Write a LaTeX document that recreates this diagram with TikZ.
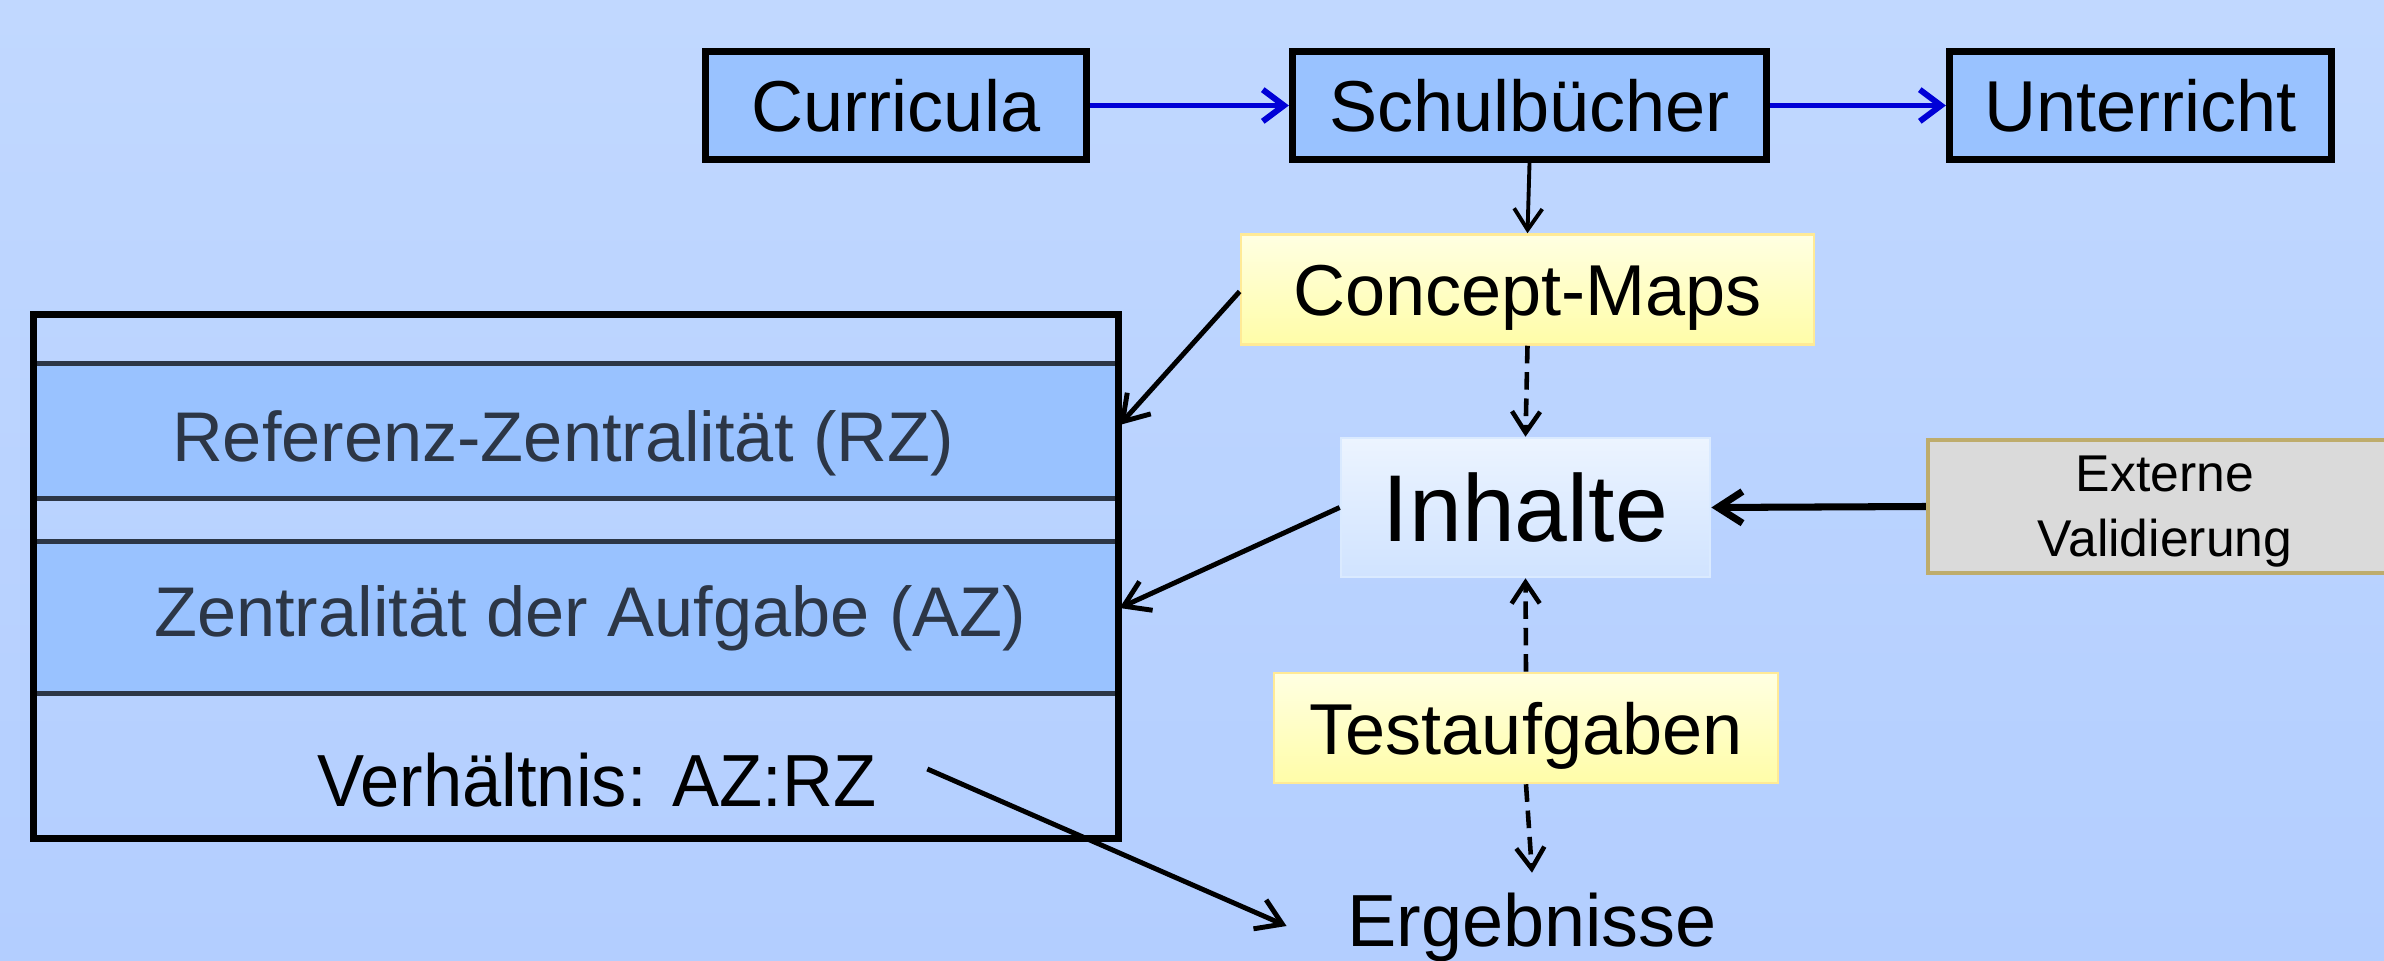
\documentclass[tikz,border=0pt]{standalone}
\usepackage{fontspec}
\setmainfont{Liberation Sans}
\usetikzlibrary{arrows.meta}
\definecolor{bgtop}{RGB}{193,216,255}
\definecolor{bgbot}{RGB}{179,206,255}
\definecolor{boxblue}{RGB}{153,194,255}
\definecolor{yltop}{RGB}{255,255,226}
\definecolor{ylbot}{RGB}{255,253,168}
\definecolor{ylborder}{RGB}{255,234,150}
\definecolor{intop}{RGB}{236,244,255}
\definecolor{inbot}{RGB}{208,227,255}
\definecolor{inborder}{RGB}{218,234,255}
\definecolor{extfill}{RGB}{218,218,218}
\definecolor{extborder}{RGB}{190,172,108}
\definecolor{slate}{RGB}{44,54,70}
\definecolor{arrowblue}{RGB}{0,0,215}
\begin{document}
\begin{tikzpicture}[x=0.01cm,y=-0.01cm,
  boxfont/.style={font=\fontsize{20.5}{24}\selectfont,text height=14.8pt,text depth=0pt},
  bluebox/.style={draw=black,line width=2pt,fill=boxblue,inner sep=0pt,minimum width=#1,minimum height=1.08cm,boxfont},
  yellowbox/.style={draw=ylborder,line width=0.7pt,top color=yltop,bottom color=ylbot,inner sep=0pt,minimum width=#1,minimum height=1.1cm,boxfont},
  band/.style={fill=boxblue,inner sep=0pt,minimum width=10.85cm,minimum height=#1},
  sepline/.style={draw=slate,line width=1.4pt},
  bandtext/.style={font=\fontsize{20}{24}\selectfont,text height=14.4pt,text depth=0pt,text=slate,inner sep=0pt},
  arr/.style={-{Straight Barb[length=7pt,width=9pt]},line width=1.4pt},
  thinarr/.style={-{Straight Barb[length=6pt,width=8pt]},line width=1.1pt},
  bluearr/.style={-{Straight Barb[length=6pt,width=9pt]},line width=1.7pt,draw=arrowblue},
  dasharr/.style={-{Straight Barb[length=6pt,width=8pt]},line width=1.3pt,dash pattern=on 5pt off 2.5pt},
]
\clip (0,0) rectangle (2384,961);
\shade[top color=bgtop,bottom color=bgbot] (0,0) rectangle (2384,961);

% left structure
\node[band=1.34cm] (rz) at (576,431) {};
\node[band=1.51cm] (az) at (576,617.5) {};
\draw[sepline] (rz.north west) -- (rz.north east);
\draw[sepline] (rz.south west) -- (rz.south east);
\draw[sepline] (az.north west) -- (az.north east);
\draw[sepline] (az.south west) -- (az.south east);
\node[draw=black,line width=2pt,inner sep=0pt,minimum width=10.85cm,minimum height=5.24cm] (lbox) at (576,576.5) {};
\node[bandtext] (rzt) at (563,436) {Referenz-Zentralität (RZ)};
\node[bandtext] (azt) at (590,611) {Zentralität der Aufgabe (AZ)};
\node[font=\fontsize{21}{25}\selectfont,text height=15.1pt,text depth=0pt,inner ysep=0pt,inner xsep=0.5cm] (verh) at (597,780) {\scalebox{0.955}[1]{Verhältnis: AZ:RZ}};

% top row
\node[bluebox=3.81cm] (cur) at (896,105.5) {Curricula};
\node[bluebox=4.74cm] (sch) at (1529.5,105.5) {Schulbücher};
\node[bluebox=3.82cm] (unt) at (2140.5,105.5) {Unterricht};

% middle column
\node[yellowbox=5.73cm] (cm) at (1527.5,289.5) {Concept-Maps};
\node[draw=inborder,line width=0.7pt,top color=intop,bottom color=inbot,inner sep=0pt,minimum width=3.69cm,minimum height=1.39cm,font=\fontsize{27}{32}\selectfont,text height=19.4pt,text depth=0pt] (inh) at (1525.5,507.5) {Inhalte};
\node[yellowbox=5.04cm] (tst) at (1526,728) {Testaufgaben};
\node[font=\fontsize{21}{25}\selectfont,text height=15.1pt,text depth=0pt,inner xsep=0.6cm,inner ysep=0.2cm] (erg) at (1532,920) {Ergebnisse};

% external validation
\node[draw=extborder,line width=1.2pt,fill=extfill,inner sep=0pt,minimum width=4.74cm,minimum height=1.33cm] (ext) at (2165,506.5) {};
\node[font=\fontsize{14.7}{18.5}\selectfont,align=center,inner sep=0pt] (extt) at ([yshift=-0.05cm]ext.center) {Externe\\Validierung};

% connectors
\draw[bluearr] (cur.east) -- (sch.west);
\draw[bluearr] (sch.east) -- (unt.west);
\draw[thinarr] (sch.south) -- (cm.north);
\draw[dasharr] (cm.south) -- (inh.north);
\draw[dasharr] (tst.north) -- (inh.south);
\draw[dasharr] (tst.south) -- (erg.north);
\draw[arr] ([yshift=-0.02cm]cm.west) -- ([yshift=0.06cm]rz.east);
\draw[arr] (inh.west) -- ([yshift=0.095cm]az.east);
\draw[arr,line width=2pt] (ext.west) -- (inh.east);
\draw[arr] ([yshift=0.11cm]verh.east) -- ([yshift=-0.06cm]erg.west);
\end{tikzpicture}
\end{document}
